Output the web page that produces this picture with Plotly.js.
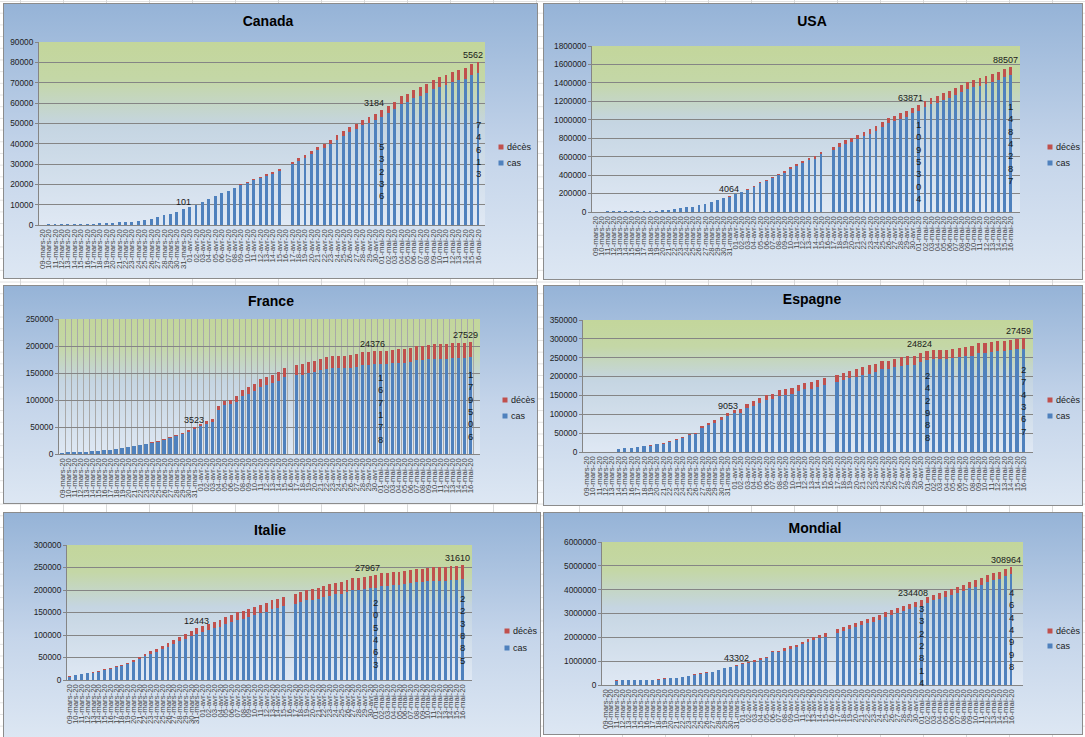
<!DOCTYPE html>
<html>
<head>
<meta charset="utf-8">
<title>Covid-19 : cas et décès</title>
<script src="https://cdn.plot.ly/plotly-3.0.1.min.js"></script>
<style>
  html, body { margin: 0; padding: 0; }
  body {
    width: 1085px; height: 737px; overflow: hidden; position: relative;
    background-color: #ffffff;
    background-image:
      linear-gradient(90deg, #d9d9d9 1px, transparent 1px),
      linear-gradient(0deg, #e2e2e2 1px, transparent 1px);
    background-size: 43px 100%, 100% 11.7px;
    background-position: 20px 0, 0 2px;
  }
  .chart {
    position: absolute;
    background: linear-gradient(#95b3d7, #c5d5ea 55%, #dde7f3);
    outline: 1px solid #8c8c8c;
    outline-offset: -1px;
  }
</style>
</head>
<body>
<script>
// Dates (axe des catégories)
const dates = [
  '09-mars-20','10-mars-20','11-mars-20','12-mars-20','13-mars-20','14-mars-20','15-mars-20','16-mars-20',
  '17-mars-20','18-mars-20','19-mars-20','20-mars-20','21-mars-20','22-mars-20','23-mars-20','24-mars-20',
  '25-mars-20','26-mars-20','27-mars-20','28-mars-20','29-mars-20','30-mars-20','31-mars-20',
  '01-avr-20','02-avr-20','03-avr-20','04-avr-20','05-avr-20','06-avr-20','07-avr-20','08-avr-20',
  '09-avr-20','10-avr-20','11-avr-20','12-avr-20','13-avr-20','14-avr-20','15-avr-20','16-avr-20',
  '17-avr-20','18-avr-20','19-avr-20','20-avr-20','21-avr-20','22-avr-20','23-avr-20','24-avr-20',
  '25-avr-20','26-avr-20','27-avr-20','28-avr-20','29-avr-20','30-avr-20',
  '01-mai-20','02-mai-20','03-mai-20','04-mai-20','05-mai-20','06-mai-20','07-mai-20','08-mai-20',
  '09-mai-20','10-mai-20','11-mai-20','12-mai-20','13-mai-20','14-mai-20','15-mai-20','16-mai-20'
];

// Canada
const canadaCas = [null,480,490,500,520,540,560,600,650,900,1000,1050,1450,1550,1600,2100,2600,3050,3850,4850,5550,6500,
  7800,8900,9850,11300,12600,14100,15600,16500,18000,19500,20700,22100,23100,24100,25300,26600,null,
  29900,31700,33000,34900,36700,38000,40000,42000,44000,45900,47400,49000,50400,51800,
  53236,55000,57000,59500,60700,62300,63600,64900,66700,68100,68900,70200,71350,71900,73600,74613];
const canadaDeces = [null,1,1,1,1,1,1,4,5,8,9,12,13,19,21,25,26,30,36,54,61,80,
  101,109,139,179,218,259,339,375,407,503,557,654,714,779,899,1010,null,
  1310,1399,1563,1661,1761,1906,2028,2141,2240,2350,2465,2617,2796,2980,
  3184,3391,3566,3766,3871,4033,4167,4295,4489,4628,4697,4906,5049,5209,5415,5562];

// USA
const usaCas = [4000,5000,6000,7000,8000,9000,10000,11000,12000,14000,16000,24800,24700,35600,46400,57300,57100,74800,88400,110000,127500,152000,
  164900,192900,213600,240400,275300,309600,336700,364100,398000,427400,465500,499900,530400,561200,579500,623800,null,
  669200,706400,740400,764000,791400,821400,851000,881000,923000,964600,984500,1012200,1034600,1068300,
  1095304,1133300,1167600,1187100,1218900,1238600,1269700,1296400,1333800,1350200,1371500,1391300,1411700,1431900,1461100,1484287];
const usaDeces = [22,28,36,40,47,54,63,85,108,118,200,244,307,427,552,706,942,1209,1581,2026,2467,2978,
  4064,5110,6394,7576,8712,10389,12285,13898,16010,18590,20519,22093,23621,25842,28474,31211,null,
  36800,38600,40600,42000,43600,46600,49000,51000,53000,54400,55500,56800,59400,61700,
  63871,65700,67400,68900,70100,71400,73300,75600,77200,78800,79500,80700,82300,84100,86900,88507];

// France
const franceCas = [2480,4270,4250,4240,4220,6000,5970,7850,7830,9540,11330,13050,14840,16530,18140,21000,22670,26500,29900,33290,36690,40580,
  46180,51870,55410,58590,81440,90720,91790,97070,107630,111790,116300,124870,128010,131730,135870,141830,null,
  145820,147080,150380,151740,154800,157960,159240,158860,158490,160140,161510,164840,164410,166100,
  167178,166900,168040,169100,168800,170370,173790,173610,175170,176820,176560,176210,178030,177680,177620,179506];
const franceDeces = [25,33,48,61,79,91,127,148,175,264,372,450,562,674,860,1100,1331,1696,1995,2314,2606,3024,
  3523,4032,5387,6507,7560,8078,8911,10328,10869,12210,13197,13832,14393,14967,15729,17167,null,
  18681,19323,19718,20265,20796,21340,21856,22245,22614,22856,23293,23660,24087,24200,
  24376,24594,24760,24895,25201,25531,25809,25987,26230,26380,26643,26991,27074,27425,27485,27529];

// Espagne
const espagneCas = [null,null,null,null,null,6900,9400,10260,12770,15280,16870,20260,21630,26630,32290,37990,44150,47040,63960,71120,78200,85280,
  94650,102600,104370,115960,123180,130550,137800,139650,147860,151660,153750,161130,165910,168040,171920,177990,null,
  185320,190060,194950,199850,204820,207880,211840,219480,219100,224110,229180,231480,231030,238760,
  242988,246300,246140,245970,248390,250840,253330,255700,263520,263380,265960,268380,268200,270680,272400,274367];
const espagneDeces = [null,null,null,null,null,195,289,342,533,623,830,1043,1375,1772,2311,2808,3647,4365,5138,5982,6803,7716,
  9053,10003,10935,11744,12418,13055,13798,14555,15238,15843,16353,16972,17489,18056,18579,18812,null,
  19478,20043,20453,20852,21282,21717,22157,22524,22902,23190,23521,23822,24275,24543,
  24824,25100,25264,25428,25613,25857,26070,26299,26478,26621,26744,26920,27104,27321,27400,27459];

// Italie
const italieCas = [7737,11269,13273,14584,16534,18559,22691,24542,28597,30322,35095,40468,45575,53024,58423,62080,68097,74135,79766,85577,92221,97309,
  102457,106845,111285,115019,118738,124213,128677,133273,135731,140321,144151,148032,152001,157335,159733,163655,null,
  169155,173173,177140,178886,180652,184615,187151,190431,192216,196356,199023,200350,202341,204318,
  205463,208864,209890,211216,211721,213685,215616,216742,217299,219305,219940,220461,220289,223094,222832,223885];
const italieDeces = [463,631,827,1016,1266,1441,1809,2158,2503,2978,3405,4032,4825,5476,6077,6820,7503,8165,9134,10023,10779,11591,
  12443,13155,13915,14681,15362,15887,16523,17127,17669,18279,18849,19468,19899,20465,21067,21645,null,
  22745,23227,23660,24114,24648,25085,25549,25969,26384,26644,26977,27150,27359,27682,
  27967,28236,28710,28884,29079,29315,29684,29958,30201,30395,30560,30739,30911,31106,31368,31610];

// Mondial
const mondialCas = [null,null,185400,190100,192600,194200,198500,217900,220100,230300,271200,297800,299000,336400,376500,431400,470800,509900,534600,615400,697100,735400,
  799700,864700,915900,980000,1058400,1123700,1372300,1365400,1443500,1520300,1583500,1704500,1796900,1875500,1953400,2029700,null,
  2195700,2286600,2335300,2413800,2504900,2583800,2663000,2740800,2859700,2937900,3015100,3093900,3174300,3254600,
  3322814,3455500,3547100,3612300,3693800,3773900,3851600,3930600,4051100,4130100,4210900,4305500,4385900,4451200,4572500,4644998];
const mondialDeces = [null,null,4600,4900,5400,5800,6500,7100,7900,8700,9800,11200,13000,14600,16500,18600,21200,24100,27400,30600,33900,37600,
  43302,48300,54100,60000,65600,70300,74700,81600,88500,95700,102500,108500,114100,119500,126600,134300,null,
  151300,158400,165700,172200,179100,184200,190000,196200,203300,210100,216900,222100,226700,230400,
  234408,240500,246900,251700,255200,259100,265400,271400,276900,281900,286100,289500,293100,297800,303500,308964];

// Points étiquetés (index dans dates)
const decesLabelIdx = [22, 53, 68];
const casLabelIdx = [53, 68];

const FONT = 'Liberation Sans, Arial, sans-serif';
const BLUE = '#4f81bd';
const RED = '#c0504d';
const GRID = '#858585';
const VGRID = '#a9a9a9';

// Position des graphiques sur la feuille (pixels)
const charts = [
  { title: 'Canada',  cas: canadaCas,  deces: canadaDeces,  ymax: 90000,   dtick: 10000,
    box: [3, 3, 538, 279],     plot: [39, 42, 485, 225],    titlePos: [268, 21],  legendX: 501,  legendY: [147, 163], bargap: 0.55 },
  { title: 'USA',     cas: usaCas,     deces: usaDeces,     ymax: 1800000, dtick: 200000,
    box: [543, 3, 1083, 280],  plot: [592, 46, 1020, 212],  titlePos: [812, 21],  legendX: 1050, legendY: [147, 163], bargap: 0.55 },
  { title: 'France',  cas: franceCas,  deces: franceDeces,  ymax: 250000,  dtick: 50000,
    box: [3, 285, 538, 504],   plot: [59, 319, 480, 454],   titlePos: [271, 301], legendX: 505,  legendY: [400, 416], bargap: 0.45, vgrid: true },
  { title: 'Espagne', cas: espagneCas, deces: espagneDeces, ymax: 350000,  dtick: 50000,
    box: [543, 285, 1083, 506], plot: [583, 320, 1033, 452], titlePos: [812, 299], legendX: 1050, legendY: [400, 416], bargap: 0.5 },
  { title: 'Italie',  cas: italieCas,  deces: italieDeces,  ymax: 300000,  dtick: 50000,
    box: [3, 512, 541, 740],   plot: [67, 545, 472, 680],   titlePos: [270, 530], legendX: 507,  legendY: [631, 648], bargap: 0.5 },
  { title: 'Mondial', cas: mondialCas, deces: mondialDeces, ymax: 6000000, dtick: 1000000,
    box: [543, 512, 1083, 735], plot: [602, 542, 1023, 685], titlePos: [815, 528], legendX: 1050, legendY: [631, 646], bargap: 0.5 }
];

// Dégradé de la zone de traçage (vert en haut, bleu clair en bas)
const plotGradient = 'data:image/svg+xml;charset=utf-8,' + encodeURIComponent(
  '<svg xmlns="http://www.w3.org/2000/svg" width="100" height="100" preserveAspectRatio="none">' +
  '<defs><linearGradient id="g" x1="0" y1="0" x2="0" y2="1">' +
  '<stop offset="0" stop-color="#c3d69b"/><stop offset="0.2" stop-color="#c4d7a6"/>' +
  '<stop offset="0.46" stop-color="#c5d5e2"/><stop offset="1" stop-color="#dfe8f4"/>' +
  '</linearGradient></defs><rect width="100" height="100" fill="url(#g)"/></svg>');

charts.forEach(function(c, n) {
    const [x0, y0, x1, y1] = c.box;
    const [px0, py0, px1, py1] = c.plot;
    const w = x1 - x0, h = y1 - y0;

    const div = document.createElement('div');
    div.className = 'chart';
    div.id = 'chart-' + n;
    div.style.left = x0 + 'px';
    div.style.top = y0 + 'px';
    div.style.width = w + 'px';
    div.style.height = h + 'px';
    document.body.appendChild(div);

    const traces = [
        { type: 'bar', name: 'cas', x: dates, y: c.cas, marker: { color: BLUE }, hoverinfo: 'skip', showlegend: false },
        { type: 'bar', name: 'décès', x: dates, y: c.deces, marker: { color: RED }, hoverinfo: 'skip', showlegend: false }
    ];

    // Etiquettes de données
    const annotations = [];
    decesLabelIdx.forEach(function(i) {
        annotations.push({
            x: dates[i], y: c.cas[i] + c.deces[i], xref: 'x', yref: 'y',
            text: String(c.deces[i]), showarrow: false, yanchor: 'bottom',
            xshift: i === 53 ? -8 : (i === 68 ? -5 : 0),
            font: { family: FONT, size: 9, color: '#1a1a1a' }
        });
    });
    casLabelIdx.forEach(function(i) {
        annotations.push({
            x: dates[i], y: c.cas[i] / 2, xref: 'x', yref: 'y',
            text: String(c.cas[i]).split('').join('<br>'), showarrow: false,
            font: { family: FONT, size: 9.5, color: '#1a1a1a' }
        });
    });

    // Légende façon Excel : petit carré + texte
    const pw = px1 - px0, ph = py1 - py0;
    const lx = (c.legendX - px0) / pw;
    const shapes = [];
    [['décès', RED, c.legendY[0]], ['cas', BLUE, c.legendY[1]]].forEach(function(item) {
        const ly = (py1 - item[2]) / ph;
        shapes.push({
            type: 'rect', xref: 'paper', yref: 'paper', xsizemode: 'pixel', ysizemode: 'pixel',
            xanchor: lx, yanchor: ly, x0: -2.5, x1: 2.5, y0: -2.5, y1: 2.5,
            fillcolor: item[1], line: { width: 0 }
        });
        annotations.push({
            xref: 'paper', yref: 'paper', x: lx, y: ly, xshift: 4, xanchor: 'left', yanchor: 'middle',
            text: item[0], showarrow: false, font: { family: FONT, size: 9, color: '#1a1a1a' }
        });
    });

    const layout = {
        width: w, height: h,
        margin: { l: px0 - x0, r: x1 - px1, t: py0 - y0, b: y1 - py1, pad: 0, autoexpand: false },
        paper_bgcolor: 'rgba(0,0,0,0)',
        plot_bgcolor: 'rgba(0,0,0,0)',
        barmode: 'stack',
        bargap: c.bargap,
        showlegend: false,
        title: {
            text: '<b>' + c.title + '</b>',
            xref: 'container', yref: 'container',
            x: (c.titlePos[0] - x0) / w, y: 1 - (c.titlePos[1] - y0) / h,
            xanchor: 'center', yanchor: 'middle',
            font: { family: FONT, size: 14, color: '#000000' }
        },
        xaxis: {
            type: 'category', categoryorder: 'array', categoryarray: dates,
            tickmode: 'array', tickvals: dates, ticktext: dates,
            tickangle: -90, tickfont: { family: FONT, size: 7.8, color: '#454545' },
            showline: true, linecolor: GRID, linewidth: 1,
            showgrid: !!c.vgrid, gridcolor: VGRID, gridwidth: 1,
            tickson: c.vgrid ? 'boundaries' : 'labels',
            ticks: '', automargin: false, fixedrange: true
        },
        yaxis: {
            range: [0, c.ymax], dtick: c.dtick, tick0: 0, tickformat: 'd',
            showgrid: true, gridcolor: GRID, gridwidth: 1, zeroline: false,
            showline: true, linecolor: GRID, linewidth: 1,
            ticks: 'outside', ticklen: 3, tickcolor: GRID,
            tickfont: { family: FONT, size: 8.3, color: '#222222' },
            automargin: false, fixedrange: true
        },
        images: [{
            source: plotGradient, xref: 'paper', yref: 'paper',
            x: 0, y: 1, sizex: 1, sizey: 1, xanchor: 'left', yanchor: 'top',
            sizing: 'stretch', layer: 'below'
        }],
        shapes: shapes,
        annotations: annotations
    };

    try {
        Plotly.newPlot(div.id, traces, layout, { staticPlot: true, displayModeBar: false });
    } catch (error) {
        console.error('Failed to render chart:', c.title, error);
    }
});
</script>
</body>
</html>
